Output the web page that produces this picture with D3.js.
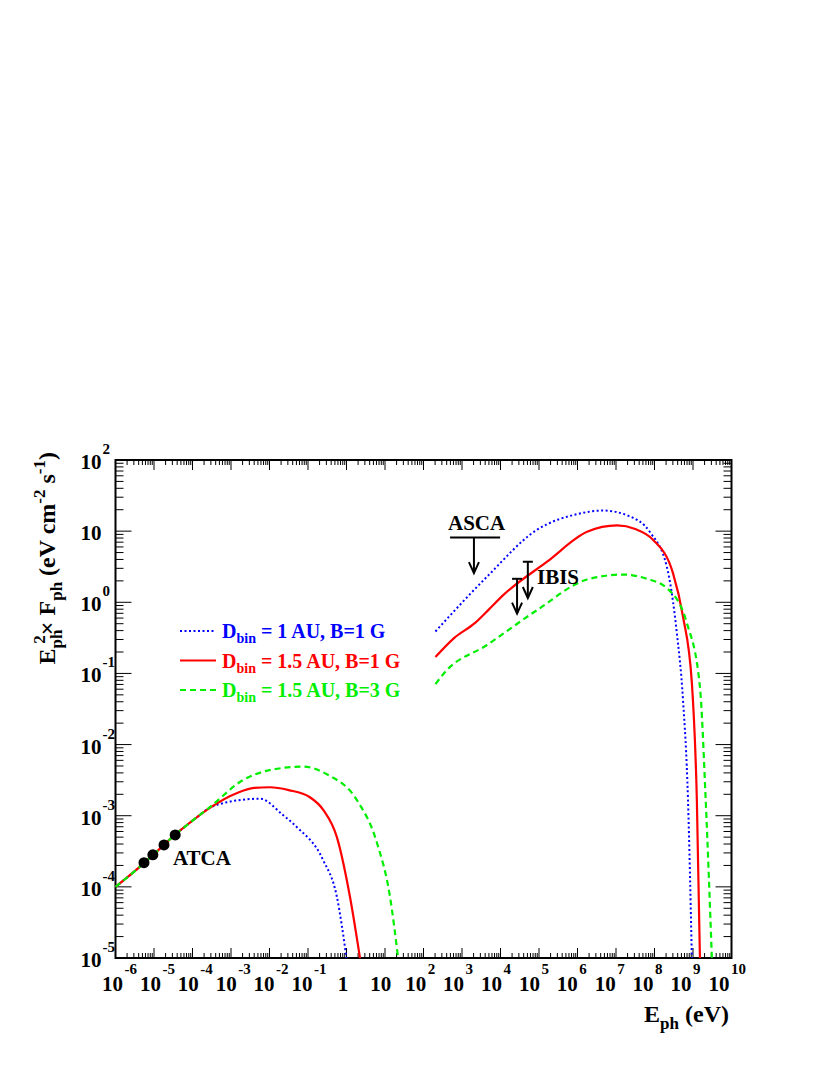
<!DOCTYPE html>
<html><head><meta charset="utf-8">
<script src="https://cdn.jsdelivr.net/npm/d3@7"></script>
<style>body{margin:0;background:#fff}text{font-family:"Liberation Serif","Times New Roman",serif;font-weight:bold}</style>
</head><body>
<svg id="c" width="830" height="1075"></svg>
<script>
// log10(E) , log10(E^2 F)
const blueLow=[[-6,-4.0],[-5.5,-3.78],[-5,-3.54],[-4.5,-3.29],[-4,-3.07],[-3.55,-2.89],[-3.1,-2.81],[-2.6,-2.77],[-2.25,-2.76],[-1.65,-2.99],[-1.29,-3.16],[-0.61,-3.62],[-0.25,-4.14],[0,-5]];
const redLow=[[-6,-4.0],[-5.5,-3.78],[-5,-3.54],[-4.5,-3.29],[-4,-3.07],[-3.55,-2.89],[-2.84,-2.68],[-2.4,-2.61],[-1.99,-2.6],[-1.5,-2.64],[-0.95,-2.74],[-0.6,-2.92],[-0.25,-3.3],[0.09,-4.14],[0.35,-5]];
const greenLow=[[-6,-4.0],[-5.5,-3.78],[-5,-3.54],[-4.5,-3.29],[-4,-3.07],[-3.55,-2.88],[-2.69,-2.5],[-2.0,-2.36],[-1.13,-2.31],[-0.5,-2.42],[0.27,-2.78],[0.79,-3.38],[1.13,-4.14],[1.34,-5]];
const blueHigh=[[2.31,-0.41],[3.65,0.36],[4.95,1.02],[6.0,1.24],[6.66,1.29],[7.3,1.22],[7.89,0.98],[8.32,0.5],[8.58,-0.43],[8.74,-1.37],[8.87,-2.78],[8.97,-5]];
const redHigh=[[2.31,-0.77],[2.8,-0.5],[3.34,-0.29],[3.7,-0.1],[4.07,0.1],[5.21,0.57],[6.25,0.99],[7.03,1.08],[7.5,1.03],[7.96,0.88],[8.48,0.41],[8.74,-0.2],[8.97,-1.13],[9.1,-2.78],[9.18,-5]];
const greenHigh=[[2.31,-1.15],[2.56,-0.98],[3.65,-0.6],[4.95,-0.11],[6.25,0.32],[7.18,0.39],[7.8,0.33],[8.32,0.2],[8.84,-0.29],[9.18,-1.19],[9.33,-2.78],[9.49,-5]];
const atca=[[-5.26,-3.66],[-5.03,-3.55],[-4.74,-3.41],[-4.45,-3.27]];
const ascaBar=[2.69,3.99,0.91,0.41]; // x1,x2,y,yArrowEnd
const ibis=[[4.43,0.33,-0.16],[4.71,0.57,0.06]]; // x,yTop,yEnd
const xExp=d3.range(-6,11);
const yExp=d3.range(-5,3);
const series=[
 {name:"1 AU, B=1 G",color:"#0000ff",dash:"2,2.5",w:2,low:blueLow,high:blueHigh},
 {name:"1.5 AU, B=1 G",color:"#ff0000",dash:null,w:2.2,low:redLow,high:redHigh},
 {name:"1.5 AU, B=3 G",color:"#00ee00",dash:"6,4",w:2.2,low:greenLow,high:greenHigh}];

const svg=d3.select("#c");
const L=115.5,R=731.5,T=460,B=958;
const x=d3.scaleLog().domain([1e-6,1e10]).range([L,R]);
const y=d3.scaleLog().domain([1e-5,1e2]).range([B,T]);
const g=svg.append("g");
function ticks(){
 const maj=10,mn=5;
 for(let e=-6;e<=10;e++){
  for(let k=1;k<10;k++){
   const v=k*Math.pow(10,e); if(v>1e10)break;
   const px=x(v),len=k==1?maj:mn;
   g.append("line").attr("x1",px).attr("x2",px).attr("y1",B).attr("y2",B-len).attr("stroke","#000");
   g.append("line").attr("x1",px).attr("x2",px).attr("y1",T).attr("y2",T+len).attr("stroke","#000");
  }}
 for(let e=-5;e<=2;e++){
  for(let k=1;k<10;k++){
   const v=k*Math.pow(10,e); if(v>1e2)break;
   const py=y(v),len=k==1?maj*1.6:mn*1.6;
   g.append("line").attr("y1",py).attr("y2",py).attr("x1",L).attr("x2",L+len).attr("stroke","#000");
   g.append("line").attr("y1",py).attr("y2",py).attr("x1",R).attr("x2",R-len).attr("stroke","#000");
  }}
}
ticks();
g.append("rect").attr("x",L).attr("y",T).attr("width",R-L).attr("height",B-T).attr("fill","none").attr("stroke","#000").attr("stroke-width",2);
// x labels
xExp.forEach(e=>{
 const px=x(Math.pow(10,e))-(e+6)*0.6-3;
 if(e===0||e===1){g.append("text").attr("x",px+3).attr("y",B+33).attr("text-anchor","middle").attr("font-size",21).text(e===0?"1":"10");return;}
 g.append("text").attr("x",px).attr("y",B+33).attr("text-anchor","middle").attr("font-size",21).text("10");
 g.append("text").attr("x",px+12).attr("y",B+16).attr("text-anchor","start").attr("font-size",15).text(String(e));
});
// y labels
yExp.forEach(e=>{
 const py=y(Math.pow(10,e));
 g.append("text").attr("x",L-14).attr("y",py+9).attr("text-anchor","end").attr("font-size",21).text("10");
 if(e!==1) g.append("text").attr("x",L-13).attr("y",py-6).attr("text-anchor","start").attr("font-size",15).text(String(e));
});
// curves
const line=d3.line().x(d=>x(Math.pow(10,d[0]))).y(d=>y(Math.pow(10,d[1]))).curve(d3.curveMonotoneX);
series.forEach(s=>{
 [s.low,s.high].forEach(arr=>{
  g.append("path").attr("d",line(arr)).attr("fill","none").attr("stroke",s.color).attr("stroke-width",s.w).attr("stroke-dasharray",s.dash);
 });
});
// ATCA
atca.forEach(d=>g.append("circle").attr("cx",x(Math.pow(10,d[0]))).attr("cy",y(Math.pow(10,d[1]))).attr("r",5.5).attr("fill","#000"));
g.append("text").attr("x",173).attr("y",865).attr("font-size",21).text("ATCA");
// ASCA
const ax1=x(Math.pow(10,ascaBar[0])),ax2=x(Math.pow(10,ascaBar[1])),ay=y(Math.pow(10,ascaBar[2]));
const amid=x(Math.pow(10,3.31)),ayE=y(Math.pow(10,ascaBar[3]));
g.append("line").attr("x1",ax1).attr("x2",ax2).attr("y1",ay).attr("y2",ay).attr("stroke","#000").attr("stroke-width",2);
function arrow(px,y1,y2){
 g.append("line").attr("x1",px).attr("x2",px).attr("y1",y1).attr("y2",y2).attr("stroke","#000").attr("stroke-width",2);
 g.append("path").attr("d",`M${px-5},${y2-11}L${px},${y2}L${px+5},${y2-11}`).attr("fill","none").attr("stroke","#000").attr("stroke-width",2);
}
arrow(amid,ay,ayE);
g.append("text").attr("x",448).attr("y",530).attr("font-size",21).text("ASCA");
ibis.forEach(d=>{
 const px=x(Math.pow(10,d[0])),y1=y(Math.pow(10,d[1])),y2=y(Math.pow(10,d[2]));
 g.append("line").attr("x1",px-5).attr("x2",px+5).attr("y1",y1).attr("y2",y1).attr("stroke","#000").attr("stroke-width",2);
 arrow(px,y1,y2);
});
g.append("text").attr("x",537).attr("y",584).attr("font-size",21).text("IBIS");
// legend
series.forEach((s,i)=>{
 const ly=631+i*29.5;
 g.append("line").attr("x1",180).attr("x2",216).attr("y1",ly).attr("y2",ly).attr("stroke",s.color).attr("stroke-width",s.w).attr("stroke-dasharray",s.dash);
 const t=g.append("text").attr("x",222).attr("y",ly+7).attr("font-size",20).attr("fill",s.color);
 t.append("tspan").text("D");
 t.append("tspan").attr("font-size",14).attr("dy",5).text("bin");
 t.append("tspan").attr("dy",-5).text(" = "+s.name);
});
// axis titles
const xt=g.append("text").attr("x",729).attr("y",1022).attr("text-anchor","end").attr("font-size",24);
xt.append("tspan").text("E");xt.append("tspan").attr("font-size",17).attr("dy",7).text("ph");xt.append("tspan").attr("dy",-7).text(" (eV)");
const yt=g.append("text").attr("transform","translate(55,452) rotate(-90)").attr("text-anchor","end").attr("font-size",24);
yt.append("tspan").text("E");yt.append("tspan").attr("font-size",17).attr("dy",7).text("ph");
yt.append("tspan").attr("font-size",17).attr("dy",-17).attr("dx",-14).text("2");
yt.append("tspan").attr("dy",10).text("× F");
yt.append("tspan").attr("font-size",17).attr("dy",7).text("ph");
yt.append("tspan").attr("dy",-7).text(" (eV cm");
yt.append("tspan").attr("font-size",17).attr("dy",-10).text("-2");
yt.append("tspan").attr("dy",10).text(" s");
yt.append("tspan").attr("font-size",17).attr("dy",-10).text("-1");
yt.append("tspan").attr("dy",10).text(")");
</script>
</body></html>
